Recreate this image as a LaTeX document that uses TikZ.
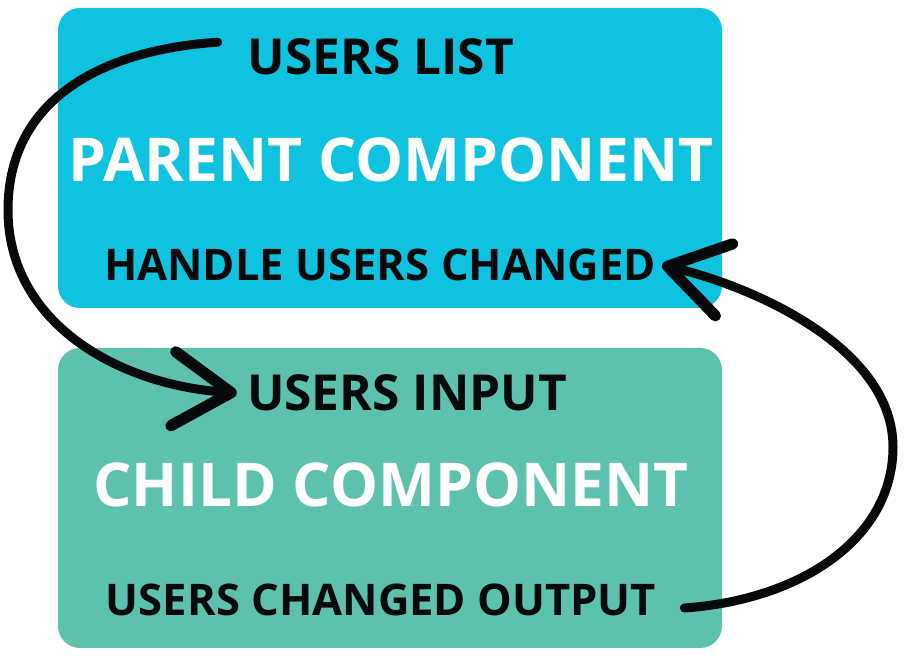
\documentclass[tikz,border=0pt]{standalone}
\usepackage{fontspec}
\setmainfont{Open Sans}
\usepackage{xcolor}
\definecolor{parentfill}{HTML}{0EC2E0}
\definecolor{childfill}{HTML}{5CC2AE}
\definecolor{inkdark}{HTML}{050909}
\usetikzlibrary{arrows.meta, positioning, calc}

\begin{document}
\begin{tikzpicture}[
  font=\bfseries,
  compbox/.style={
    rounded corners=0.55cm, minimum width=16.6cm, minimum height=7.5cm,
    inner sep=0pt
  },
  titletext/.style={text=white, inner sep=0pt, font=\fontsize{43}{50}\selectfont\bfseries},
  porttext/.style={text=inkdark, inner sep=0pt, font=\fontsize{31}{37}\selectfont\bfseries},
  bigport/.style={porttext, font=\fontsize{35.3}{42}\selectfont\bfseries},
  flow/.style={inkdark, line width=6.4pt, line cap=round,
    -{Straight Barb[length=1.45cm, width=1.85cm, line width=8pt, line cap=round, line join=round]}}
]
  \useasboundingbox (0,0) rectangle (22.65,16.575);

  \node[compbox, fill=parentfill] (nparent) at (9.75,12.625) {};
  \node[compbox, fill=childfill]  (nchild)  at (9.75,4.125)  {};

  \node[bigport]    (nlist)   at (9.525,15.15) {USERS LIST};
  \node[titletext]  (nptitle) at (9.775,12.575) {PARENT COMPONENT};
  \node[porttext]   (nhandle) at (9.5,9.95)    {HANDLE USERS CHANGED};

  \node[bigport]    (ninput)  at (10.175,6.75) {USERS INPUT};
  \node[titletext]  (nctitle) at (9.775,4.45)  {CHILD COMPONENT};
  \node[porttext]   (noutput) at (9.525,1.575) {USERS CHANGED OUTPUT};

  % list goes down the left side into the child input
  \coordinate (leftBend) at (0.2,11.325);
  \draw[flow] ([xshift=-0.75cm, yshift=0.37cm]nlist.west)
    .. controls +(-3,-0.2) and +(0,2.7) .. (leftBend)
    .. controls +(0,-2.8) and +(-3,0.2) .. ([xshift=-0.25cm]ninput.west);

  % output comes back up the right side into the handler
  \coordinate (rightBend) at (22.325,5.4);
  \draw[flow] ([xshift=0.7cm, yshift=-0.2cm]noutput.east)
    .. controls +(2.9,0.2) and +(0,-2.3) .. (rightBend)
    .. controls +(0,2.4) and +(2.5,-0.6) .. ([xshift=0.15cm]nhandle.east);
\end{tikzpicture}
\end{document}
